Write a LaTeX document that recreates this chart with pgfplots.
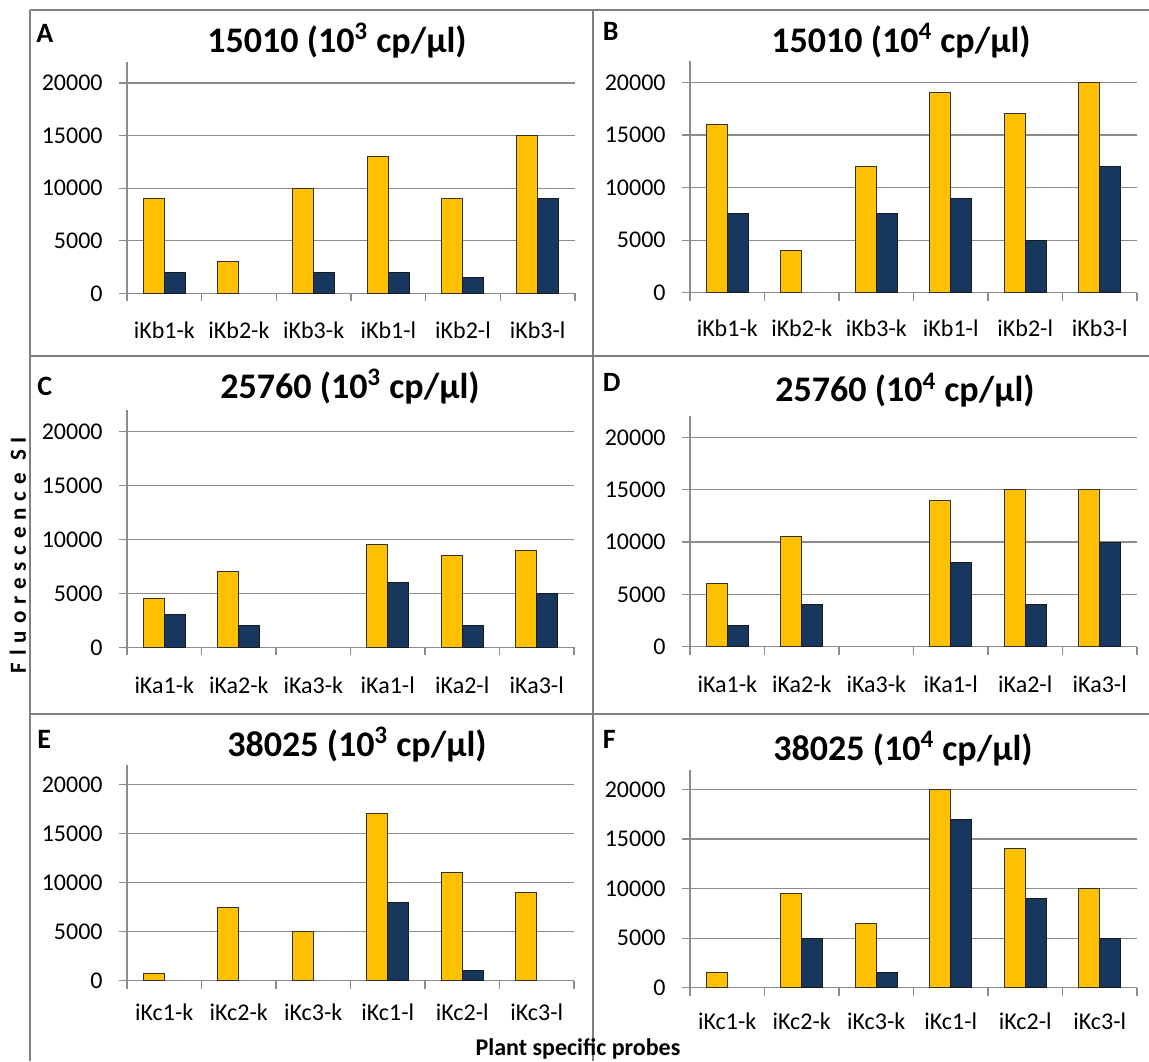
\documentclass[border=0pt]{standalone}
\usepackage{fontspec}
\setmainfont{Carlito}
\usepackage{pgfplots}
\pgfplotsset{compat=1.18}

\definecolor{barYellow}{HTML}{FFC000}
\definecolor{barNavy}{HTML}{17375E}
\definecolor{gridGray}{HTML}{8C8C8C}
\definecolor{frameGray}{HTML}{808080}

\newcommand{\tickfont}{\fontsize{12}{12}\selectfont}
\newcommand{\titlefont}{\fontsize{18}{18}\selectfont\bfseries}
\newcommand{\letterfont}{\fontsize{14}{14}\selectfont\bfseries}

\pgfplotsset{
  panel/.style={
    scale only axis,
    anchor=south west,
    ybar=0pt,
    bar width=10.5pt,
    xmin=-0.5, xmax=5.5,
    ymin=0, ymax=22000,
    xtick={0,...,5},
    minor xtick={-0.5,0.5,...,5.5},
    ytick={0,5000,10000,15000,20000},
    scaled y ticks=false,
    /pgf/number format/1000 sep={},
    /pgf/number format/assume math mode=true,
    axis x line*=bottom,
    axis y line*=left,
    axis line style={draw=gridGray, line width=0.6pt, -},
    tick align=outside,
    major tick length=4pt,
    minor tick length=4pt,
    major x tick style={draw=none},
    minor x tick style={draw=gridGray, line width=0.6pt},
    major y tick style={draw=gridGray, line width=0.6pt},
    ymajorgrids,
    major grid style={draw=gridGray, line width=0.6pt},
    yticklabel style={font=\tickfont, anchor=east, inner sep=0pt, xshift=-8pt},
    xticklabel style={font=\tickfont, anchor=base, inner sep=0pt, yshift=#1},
    clip=false,
  },
  yel/.style={fill=barYellow, draw=black!80, line width=0.5pt},
  nav/.style={fill=barNavy, draw=black!90, line width=0.5pt},
}

\begin{document}
\begin{tikzpicture}
\useasboundingbox (0pt,0pt) rectangle (574.5pt,-530.5pt);

% panel frames, letters, titles and shared labels (1 unit = 1 px)
\begin{scope}[x=0.5pt,y=-0.5pt]
  \draw[frameGray, line width=1pt] (30,10) -- (1149,10);
  \draw[frameGray, line width=1pt] (30,10) -- (30,1061);
  \draw[frameGray, line width=1pt] (593,10) -- (593,1061);
  \draw[frameGray, line width=1pt] (30,356) -- (1149,356);
  \draw[frameGray, line width=1pt] (30,714) -- (1149,714);

  \node[font=\letterfont, anchor=base west, inner sep=0pt] at (36,42.7) {A};
  \node[font=\letterfont, anchor=base west, inner sep=0pt] at (602.5,40.7) {B};
  \node[font=\letterfont, anchor=base west, inner sep=0pt] at (37,395) {C};
  \node[font=\letterfont, anchor=base west, inner sep=0pt] at (602.5,391.7) {D};
  \node[font=\letterfont, anchor=base west, inner sep=0pt] at (37,748.3) {E};
  \node[font=\letterfont, anchor=base west, inner sep=0pt] at (602.5,748.3) {F};

  \node[font=\titlefont, anchor=base, inner sep=0pt] at (337,52) {15010 (10\textsuperscript{3} cp/µl)};
  \node[font=\titlefont, anchor=base, inner sep=0pt] at (901,52) {15010 (10\textsuperscript{4} cp/µl)};
  \node[font=\titlefont, anchor=base, inner sep=0pt] at (350,398) {25760 (10\textsuperscript{3} cp/µl)};
  \node[font=\titlefont, anchor=base, inner sep=0pt] at (905,401.7) {25760 (10\textsuperscript{4} cp/µl)};
  \node[font=\titlefont, anchor=base, inner sep=0pt] at (357,756) {38025 (10\textsuperscript{3} cp/µl)};
  \node[font=\titlefont, anchor=base, inner sep=0pt] at (903,760) {38025 (10\textsuperscript{4} cp/µl)};

  \node[font=\fontsize{12}{12}\selectfont\bfseries, anchor=base, inner sep=0pt] at (578,1055) {Plant specific probes};
  \node[font=\fontsize{11.5}{11.5}\selectfont\bfseries\addfontfeature{LetterSpace=30}, rotate=90, inner sep=0pt] at (18,555) {Fluorescence SI};
\end{scope}

% A
\begin{axis}[panel={-18.5pt}, at={(63.5pt,-146.65pt)}, width=224pt, height=115.65pt,
  xticklabels={iKb1-k,iKb2-k,iKb3-k,iKb1-l,iKb2-l,iKb3-l}]
  \addplot[yel] coordinates {(0,9000) (1,3000) (2,10000) (3,13000) (4,9000) (5,15000)};
  \addplot[nav] coordinates {(0,2000) (2,2000) (3,2000) (4,1500) (5,9000)};
\end{axis}

% B
\begin{axis}[panel={-18pt}, at={(345pt,-146.35pt)}, width=223.5pt, height=115.7pt,
  xticklabels={iKb1-k,iKb2-k,iKb3-k,iKb1-l,iKb2-l,iKb3-l}]
  \addplot[yel] coordinates {(0,16000) (1,4000) (2,12000) (3,19000) (4,17000) (5,20000)};
  \addplot[nav] coordinates {(0,7500) (2,7500) (3,9000) (4,5000) (5,12000)};
\end{axis}

% C
\begin{axis}[panel={-19pt}, at={(63.5pt,-323.65pt)}, width=223.5pt, height=118.6pt,
  xticklabels={iKa1-k,iKa2-k,iKa3-k,iKa1-l,iKa2-l,iKa3-l}]
  \addplot[yel] coordinates {(0,4500) (1,7000) (3,9500) (4,8500) (5,9000)};
  \addplot[nav] coordinates {(0,3000) (1,2000) (3,6000) (4,2000) (5,5000)};
\end{axis}

% D
\begin{axis}[panel={-19pt}, at={(345pt,-323.35pt)}, width=223.5pt, height=115.15pt,
  xticklabels={iKa1-k,iKa2-k,iKa3-k,iKa1-l,iKa2-l,iKa3-l}]
  \addplot[yel] coordinates {(0,6000) (1,10500) (3,14000) (4,15000) (5,15000)};
  \addplot[nav] coordinates {(0,2000) (1,4000) (3,8000) (4,4000) (5,10000)};
\end{axis}

% E
\begin{axis}[panel={-16pt}, at={(63.5pt,-490.35pt)}, width=223.5pt, height=108pt,
  xticklabels={iKc1-k,iKc2-k,iKc3-k,iKc1-l,iKc2-l,iKc3-l}]
  \addplot[yel] coordinates {(0,750) (1,7500) (2,5000) (3,17000) (4,11000) (5,9000)};
  \addplot[nav] coordinates {(3,8000) (4,1000)};
\end{axis}

% F
\begin{axis}[panel={-17pt}, at={(345pt,-493.85pt)}, width=223.5pt, height=109.1pt,
  xticklabels={iKc1-k,iKc2-k,iKc3-k,iKc1-l,iKc2-l,iKc3-l}]
  \addplot[yel] coordinates {(0,1500) (1,9500) (2,6500) (3,20000) (4,14000) (5,10000)};
  \addplot[nav] coordinates {(1,5000) (2,1500) (3,17000) (4,9000) (5,5000)};
\end{axis}
\end{tikzpicture}
\end{document}
